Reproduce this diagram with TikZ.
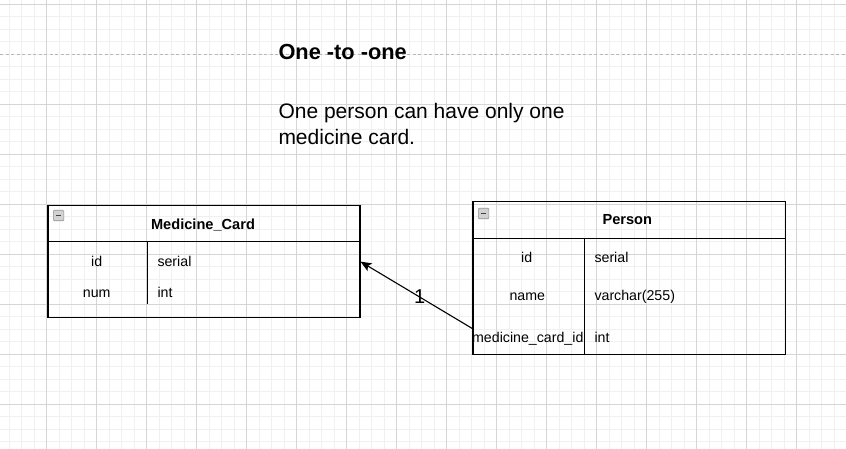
\documentclass[tikz,border=0pt]{standalone}
\usepackage{fontspec}
\setmainfont{Liberation Sans}
\usetikzlibrary{arrows.meta}
\definecolor{gmin}{HTML}{F0F0F0}
\definecolor{gmaj}{HTML}{D5D5D5}
\definecolor{gdash}{HTML}{B8B8B8}
\begin{document}
\begin{tikzpicture}[x=1pt,y=-1pt,
  minorl/.style={gmin, line width=0.8pt},
  majorl/.style={gmaj, line width=0.9pt},
  tbl/.style={draw=black, line width=1.2pt, anchor=north west, inner sep=0pt},
  tline/.style={black, line width=1.2pt},
  hdr/.style={font=\bfseries\fontsize{14.6}{17}\selectfont, anchor=base, inner sep=0pt},
  fld/.style={font=\fontsize{14.2}{17}\selectfont, anchor=base, inner sep=0pt},
  typ/.style={font=\fontsize{14.2}{17}\selectfont, anchor=base west, inner sep=0pt},
  big/.style={font=\fontsize{21}{25}\selectfont, anchor=base west, inner sep=0pt},
  mini/.style={draw=gray!85, fill=gray!35, line width=0.7pt, minimum size=10.5pt, inner sep=0pt, rounded corners=1pt,
    path picture={\draw[line width=1.8pt, black!75] ([xshift=-2.8pt]path picture bounding box.center) -- ([xshift=2.8pt]path picture bounding box.center);}},
  conn/.style={black, line width=1.1pt, -{Stealth[length=11pt,width=9pt,inset=2.5pt]}},
  lbl/.style={font=\fontsize{20}{22}\selectfont, inner sep=0pt}
]
\useasboundingbox (0,0) rectangle (846,449);
\fill[white] (0,0) rectangle (846,449);
% grid
\foreach \x in {9,21.5,...,846} \draw[minorl] (\x,0) -- (\x,449);
\foreach \y in {4,16.5,...,449} \draw[minorl] (0,\y) -- (846,\y);
\foreach \x in {46.5,96.5,...,846} \draw[majorl] (\x,0) -- (\x,449);
\foreach \y in {4,104,154,...,449} \draw[majorl] (0,\y) -- (846,\y);
\draw[gdash, line width=0.9pt, dash pattern=on 3pt off 2.5pt] (0,54) -- (846,54);

% title and description
\node[big, font=\bfseries\fontsize{21.8}{25}\selectfont] (title) at (278.3,60) {One -to -one};
\node[big] (desc1) at (278.3,119) {One person can have only one};
\node[big] (desc2) at (278.3,145) {medicine card.};

% Medicine_Card table
\node[tbl, minimum width=312pt, minimum height=111.7pt] (mc) at (47.3,205) {};
\draw[tline] (47.3,241.5) -- (359.3,241.5);
\draw[tline] (147.3,241.5) -- (147.3,304);
\node[mini] (mcmin) at (58.6,215.6) {};
\node[hdr] (mchdr) at (203,229.3) {Medicine\_Card};
\node[fld] (mcid) at (96.7,266.7) {id};
\node[typ] (mcidt) at (157.3,266.7) {serial};
\node[fld] (mcnum) at (96.7,297.3) {num};
\node[typ] (mcnumt) at (157.3,297.3) {int};

% Person table
\node[tbl, minimum width=312.4pt, minimum height=153pt] (person) at (472.3,201) {};
\draw[tline] (472.3,238.3) -- (784.7,238.3);
\draw[tline] (584.7,238.3) -- (584.7,354);
\node[mini] (pmin) at (483.6,213.6) {};
\node[hdr] (phdr) at (627.3,225) {Person};
\node[fld] (pid) at (526.7,262.7) {id};
\node[typ] (pidt) at (594.3,262.7) {serial};
\node[fld] (pname) at (527.3,300) {name};
\node[typ] (pnamet) at (594.3,300) {varchar(255)};
\node[fld] (pmc) at (527.8,342.7) {medicine\_card\_id};
\node[typ] (pmct) at (594.3,342.7) {int};

% connector
\coordinate (ps) at (472.3,328.5);
\draw[conn] (ps) -- (mc.east |- mcid) node[lbl, pos=0.47] (one) {1};
\end{tikzpicture}
\end{document}
